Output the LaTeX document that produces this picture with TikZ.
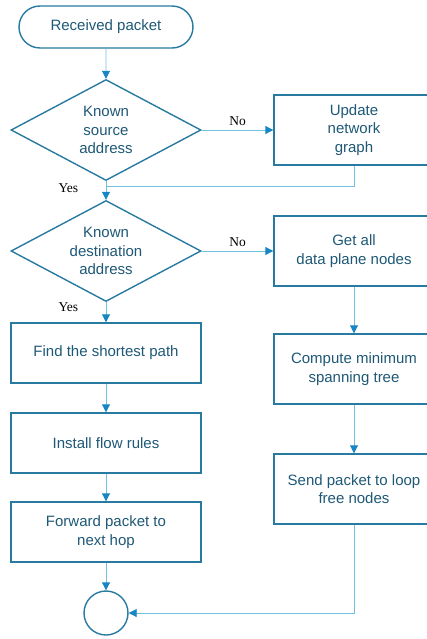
\documentclass[tikz,border=0pt]{standalone}
\usepackage{fontspec}
\setmainfont{Liberation Sans}
\newfontfamily\labelfont{Liberation Serif}
\usetikzlibrary{shapes.geometric,shapes.misc,arrows.meta,positioning}

\definecolor{boxline}{RGB}{40,122,160}
\definecolor{boxtext}{RGB}{30,88,118}
\definecolor{flowline}{RGB}{112,192,226}
\definecolor{tipblue}{RGB}{24,134,194}

\begin{document}
\begin{tikzpicture}[x=1pt,y=1pt,on grid,
    font=\fontsize{15}{18.3}\selectfont,
    every node/.style={text=boxtext,align=center},
    proc/.style={draw=boxline,line width=1.4pt,rectangle,inner sep=0pt,
        minimum width=190,minimum height=60},
    side/.style={proc,minimum width=160,minimum height=70},
    decide/.style={draw=boxline,line width=1.4pt,diamond,aspect=1.88,inner sep=0pt,
        minimum width=190,minimum height=101},
    term/.style={draw=boxline,line width=1.4pt,rounded rectangle,inner sep=0pt,
        minimum width=174,minimum height=42},
    stop/.style={draw=boxline,line width=1.4pt,circle,minimum size=44,inner sep=0pt},
    flow/.style={draw=flowline,line width=0.9pt,
        -{Triangle[length=8pt,width=8pt,color=tipblue]}},
    lbl/.style={text=black,font=\labelfont\fontsize{13.5}{15}\selectfont}]
    \useasboundingbox (0,0) rectangle (426,-639);

    \node[term] (start) at (106,-27) {Received packet};
    \node[decide] (src) [below=103 of start] {Known\\source\\address};
    \node[decide] (dst) [below=121 of src] {Known\\destination\\address};
    \node[proc] (path) [below=102 of dst] {Find the shortest path};
    \node[proc] (rules) [below=90 of path] {Install flow rules};
    \node[proc] (fwd) [below=89 of rules] {Forward packet to\\next hop};
    \node[stop] (end) [below=81 of fwd] {};
    \node[side] (update) [right=248 of src] {Update\\network\\graph};
    \node[side] (getall) [right=248 of dst] {Get all\\data plane nodes};
    \node[side] (mst) [below=118 of getall] {Compute minimum\\spanning tree};
    \node[side] (send) [below=120 of mst] {Send packet to loop\\free nodes};
    \coordinate (join) at (src.south |- 0,-186);

    \path[flow]
        (start) edge (src)
        (src) edge node[lbl,pos=0.35,left=24] {Yes} (dst)
              edge node[lbl,above=1] {No} (update)
        (dst) edge node[lbl,pos=0.25,left=24] {Yes} (path)
              edge node[lbl,above=1] {No} (getall)
        (path) edge (rules)
        (rules) edge (fwd)
        (fwd) edge (end)
        (getall) edge (mst)
        (mst) edge (send);
    \draw[flowline,line width=0.9pt] (update.south) |- (join);
    \draw[flow] (send.south) |- (end.east);
\end{tikzpicture}
\end{document}
